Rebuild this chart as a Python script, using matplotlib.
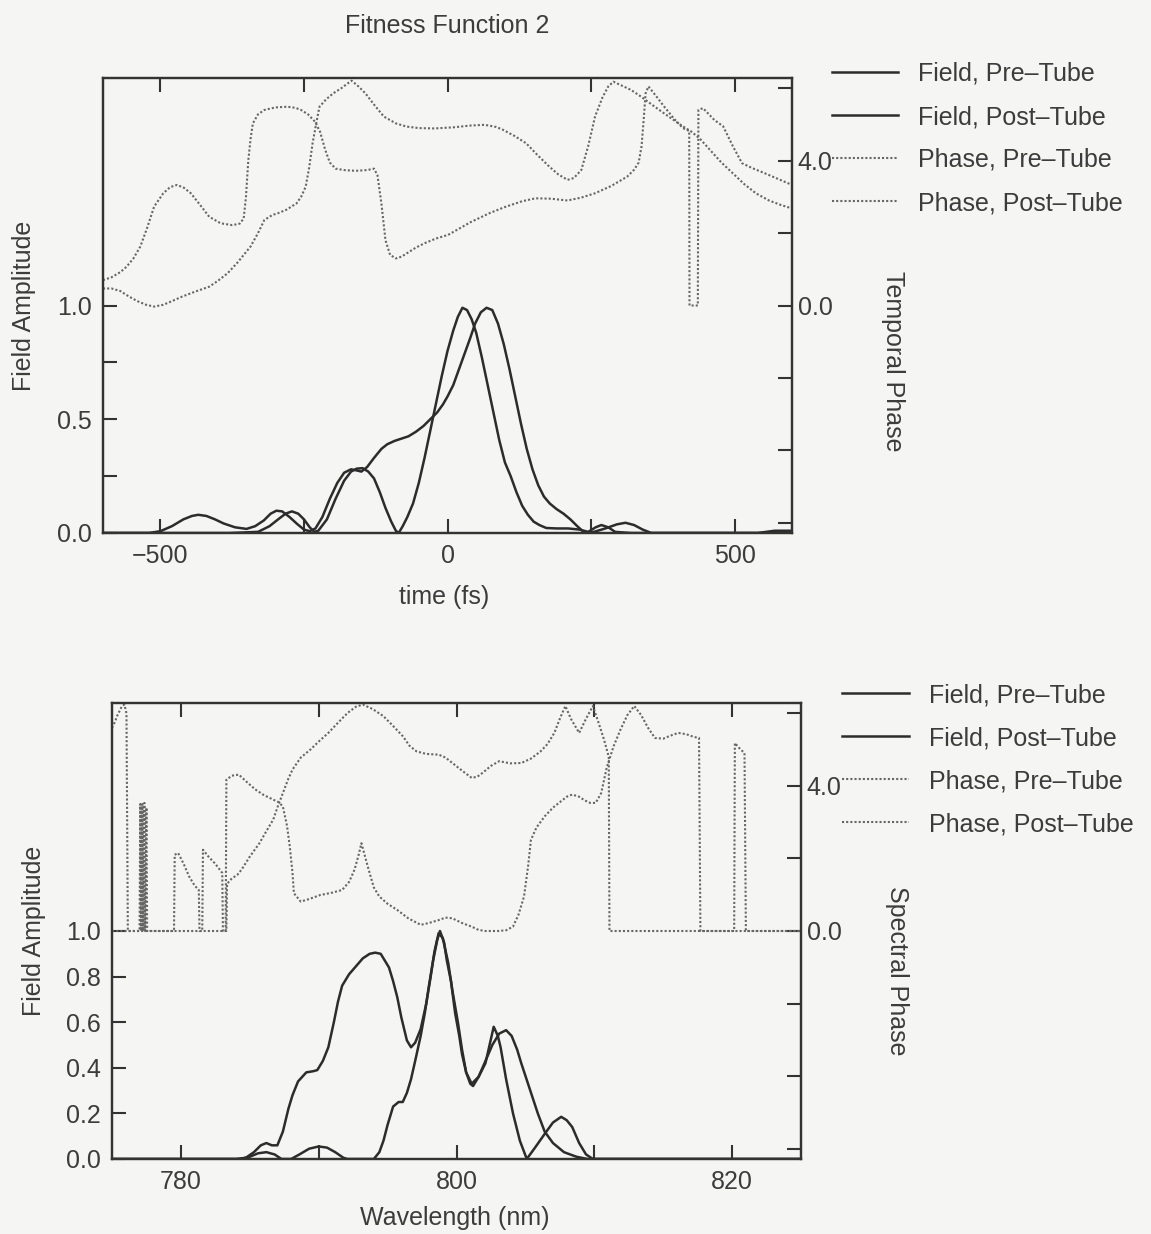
import matplotlib
matplotlib.use('Agg')
import matplotlib.pyplot as plt
from matplotlib.ticker import MultipleLocator, FixedLocator, FixedFormatter, FormatStrFormatter
import numpy as np

# ---------------- data: top panel (time domain) ----------------
t_field_pre = [-600, -450, -380, -330, -310, -295, -282, -271, -260, -250, -240, -232, -225, -210, -195,
               -180, -168, -158, -148, -138, -128, -118, -108, -98, -90, -85, -78, -70, -60, -50, -40,
               -30, -20, -10, 0, 10, 18, 26, 34, 42, 50, 60, 70, 80, 90, 100, 110, 120, 130, 140, 150,
               160, 172, 190, 210, 230, 245, 258, 268, 280, 292, 320, 540, 570, 600]
f_field_pre = [0.0, 0.0, 0.0, 0.005, 0.03, 0.06, 0.085, 0.095, 0.085, 0.06, 0.025, 0.005, 0.01, 0.06, 0.15,
               0.23, 0.27, 0.283, 0.285, 0.27, 0.24, 0.18, 0.11, 0.05, 0.01, 0.0, 0.03, 0.07, 0.13, 0.22, 0.33,
               0.45, 0.57, 0.69, 0.80, 0.89, 0.95, 0.99, 0.98, 0.94, 0.88, 0.77, 0.65, 0.53, 0.41, 0.31, 0.25,
               0.18, 0.12, 0.08, 0.05, 0.035, 0.022, 0.02, 0.02, 0.015, 0.005, 0.025, 0.035, 0.025, 0.005, 0.0,
               0.0, 0.01, 0.01]

t_field_post = [-600, -520, -500, -480, -460, -445, -434, -420, -405, -390, -370, -350, -335, -320, -308,
                -298, -288, -275, -262, -250, -240, -230, -218, -205, -192, -180, -168, -158, -150, -140,
                -128, -115, -105, -92, -80, -68, -55, -42, -30, -18, -8, 0, 10, 20, 30, 40, 48, 58, 68, 78,
                88, 98, 108, 118, 128, 138, 148, 158, 168, 178, 190, 202, 214, 226, 239, 255, 275, 295, 310,
                325, 340, 355, 600]
f_field_post = [0.0, 0.0, 0.008, 0.03, 0.06, 0.075, 0.08, 0.075, 0.06, 0.042, 0.025, 0.018, 0.03, 0.055, 0.085,
                0.098, 0.095, 0.07, 0.04, 0.015, 0.008, 0.02, 0.07, 0.15, 0.22, 0.265, 0.28, 0.275, 0.27, 0.29,
                0.33, 0.37, 0.39, 0.405, 0.415, 0.425, 0.445, 0.47, 0.50, 0.53, 0.565, 0.60, 0.65, 0.72, 0.79,
                0.86, 0.92, 0.97, 0.99, 0.98, 0.92, 0.83, 0.72, 0.60, 0.48, 0.37, 0.28, 0.21, 0.16, 0.13, 0.105,
                0.085, 0.06, 0.03, 0.0, 0.005, 0.02, 0.038, 0.045, 0.035, 0.015, 0.0, 0.0]

t_phase_pre = [-600, -585, -570, -559, -547, -535, -523, -511, -495, -483, -471, -459, -447, -431, -415, -395,
               -375, -362, -355, -351, -347, -343, -339, -330, -319, -300, -279, -265, -255, -243, -231, -222,
               -213, -205, -195, -180, -160, -140, -128, -122, -115, -108, -100, -90, -80, -70, -55, -40, -20,
               1, 20, 40, 73, 100, 130, 153, 180, 209, 233, 257, 285, 313, 325, 333, 338, 342, 345, 350, 355,
               365, 377, 395, 410, 421, 421.5, 436, 437, 445, 465, 480, 497, 513, 530, 553, 575, 600]
p_phase_pre = [0.70, 0.78, 0.92, 1.07, 1.30, 1.63, 2.15, 2.73, 3.10, 3.27, 3.33, 3.25, 3.10, 2.78, 2.45, 2.27,
               2.22, 2.26, 2.40, 3.0, 4.0, 4.6, 5.03, 5.28, 5.40, 5.47, 5.49, 5.46, 5.40, 5.28, 5.08, 4.8,
               4.3, 3.95, 3.78, 3.74, 3.72, 3.74, 3.78, 3.6, 2.8, 1.8, 1.40, 1.30, 1.35, 1.45, 1.60, 1.72, 1.85,
               1.95, 2.12, 2.30, 2.55, 2.72, 2.88, 2.96, 2.95, 2.90, 2.98, 3.10, 3.30, 3.56, 3.75, 3.95, 4.4,
               5.2, 5.86, 6.05, 5.95, 5.75, 5.50, 5.15, 4.9, 4.82, 0.0, 0.0, 5.4, 5.45, 5.12, 4.95, 4.4, 3.93,
               3.8, 3.65, 3.5, 3.33]

t_phase_post = [-600, -585, -570, -555, -540, -525, -511, -495, -480, -463, -440, -415, -400, -383, -365, -343,
                -330, -319, -305, -295, -280, -263, -255, -247, -241, -235, -229, -223, -211, -199, -185, -175,
                -167, -155, -143, -128, -111, -90, -71, -50, -23, 10, 40, 65, 85, 97, 117, 137, 157, 177, 193,
                209, 220, 233, 245, 257, 270, 280, 289, 300, 320, 337, 360, 385, 405, 425, 440, 457, 477, 497,
                517, 537, 560, 580, 600]
p_phase_post = [0.47, 0.47, 0.40, 0.25, 0.12, 0.02, -0.03, 0.02, 0.12, 0.24, 0.38, 0.52, 0.68, 0.89, 1.20, 1.63,
                2.0, 2.36, 2.50, 2.55, 2.65, 2.82, 3.0, 3.28, 3.8, 4.48, 5.0, 5.49, 5.70, 5.86, 6.0, 6.12,
                6.21, 6.05, 5.86, 5.55, 5.22, 5.03, 4.94, 4.90, 4.89, 4.92, 4.97, 4.99, 4.93, 4.85, 4.68, 4.48,
                4.15, 3.84, 3.62, 3.47, 3.52, 3.74, 4.4, 5.22, 5.75, 6.05, 6.18, 6.1, 5.95, 5.77, 5.5, 5.22,
                5.0, 4.8, 4.6, 4.3, 3.95, 3.65, 3.35, 3.10, 2.9, 2.78, 2.68]

# ---------------- data: bottom panel (spectral domain) ----------------
wl_field_pre = [775, 784.0, 784.7, 785.3, 785.8, 786.2, 786.6, 787.0, 787.4, 787.8, 788.1, 788.5, 789.1, 789.6,
                789.9, 790.3, 790.7, 791.1, 791.4, 791.7, 792.2, 792.7, 793.2, 793.7, 794.1, 794.5, 795.1,
                795.4, 795.7, 796.0, 796.4, 796.7, 797.0, 797.4, 797.8, 798.1, 798.4, 798.7, 799.0, 799.4,
                799.7, 800.1, 800.4, 800.7, 801.0, 801.2, 801.6, 802.1, 802.4, 802.7, 803.0, 803.2, 803.6,
                804.1, 804.6, 805.1, 805.7, 806.4, 807.0, 807.6, 808.0, 808.4, 808.9, 809.4, 809.9, 825]
f_field_pre_wl = [0, 0, 0.005, 0.03, 0.06, 0.07, 0.06, 0.06, 0.12, 0.22, 0.28, 0.34, 0.38, 0.385,
                  0.39, 0.43, 0.49, 0.60, 0.69, 0.76, 0.81, 0.845, 0.88, 0.90, 0.905, 0.90, 0.84,
                  0.78, 0.71, 0.62, 0.52, 0.49, 0.51, 0.57, 0.68, 0.79, 0.91, 0.99, 0.97, 0.86,
                  0.74, 0.60, 0.48, 0.38, 0.33, 0.32, 0.36, 0.42, 0.50, 0.58, 0.54, 0.49, 0.35,
                  0.20, 0.08, 0.0, 0.05, 0.11, 0.16, 0.185, 0.17, 0.14, 0.07, 0.02, 0.0, 0.0]

wl_field_post = [775, 784.3, 785.0, 785.6, 786.2, 786.8, 787.3, 788.0, 788.6, 789.3, 790.0, 790.6, 791.2, 791.8,
                 792.1, 794.0, 794.4, 794.7, 795.0, 795.4, 795.8, 796.1, 796.4, 796.7, 797.0, 797.4, 797.7,
                 798.0, 798.3, 798.6, 798.8, 799.1, 799.3, 799.6, 799.9, 800.2, 800.4, 800.7, 801.1, 801.6,
                 802.1, 802.6, 803.1, 803.6, 804.0, 804.4, 804.7, 805.3, 805.9, 806.4, 807.0, 807.8, 808.7,
                 809.5, 825]
f_field_post_wl = [0, 0, 0.01, 0.025, 0.03, 0.02, 0.0, 0.0, 0.02, 0.045, 0.055, 0.05, 0.03, 0.005,
                   0.0, 0.0, 0.03, 0.08, 0.15, 0.23, 0.25, 0.25, 0.29, 0.35, 0.43, 0.54, 0.64,
                   0.76, 0.87, 0.96, 1.0, 0.95, 0.87, 0.78, 0.64, 0.54, 0.46, 0.38, 0.33, 0.36,
                   0.43, 0.50, 0.55, 0.565, 0.54, 0.48, 0.42, 0.31, 0.20, 0.12, 0.07, 0.03, 0.01,
                   0.0, 0.0]

wl_phase_pre = [775, 783.3, 783.35, 783.7, 784.1, 784.4, 785.0, 785.7, 786.2, 786.7, 787.0, 787.4, 787.8, 788.1,
                788.7, 789.4, 790.0, 790.7, 791.4, 792.1, 792.7, 793.2, 793.9, 794.7, 795.4, 796.1, 796.6,
                797.1, 797.8, 798.7, 799.2, 799.7, 800.4, 801.1, 801.5, 801.9, 802.5, 803.1, 803.9, 804.7,
                805.4, 806.1, 806.6, 807.1, 807.5, 807.9, 808.3, 808.9, 809.4, 809.9, 810.3, 810.7, 811.05,
                811.1, 825]
p_phase_pre_wl = [0, 0, 1.3, 1.45, 1.55, 1.69, 2.05, 2.42, 2.75, 3.07, 3.40, 3.80, 4.20, 4.45,
                  4.78, 5.00, 5.22, 5.46, 5.74, 6.01, 6.18, 6.24, 6.12, 5.92, 5.65, 5.37, 5.10,
                  4.95, 4.88, 4.86, 4.78, 4.63, 4.42, 4.22, 4.25, 4.36, 4.55, 4.68, 4.62, 4.63,
                  4.75, 4.95, 5.15, 5.46, 5.85, 6.20, 5.85, 5.46, 5.85, 6.20, 5.75, 5.28, 4.8,
                  0, 0]

wl_phase_post = [775.0, 775.2, 775.4, 775.7, 775.9, 776.05, 776.15, 777.0, 777.05, 777.1, 777.2, 777.25, 777.35,
                 777.4, 777.5, 777.55, 779.5, 779.55, 779.8, 780.2, 780.6, 781.0, 781.3, 781.35, 781.55, 781.6,
                 782.0, 782.5, 783.0, 783.05, 783.25, 783.3, 783.7, 784.2, 784.8, 785.4, 786.0, 786.7, 787.1,
                 787.4, 787.7, 787.9, 788.1, 788.2, 788.7, 789.3, 790.1, 790.9, 791.7, 792.2, 792.6, 792.9,
                 793.1, 793.4, 793.7, 794.0, 794.4, 795.0, 795.7, 796.5, 797.4, 798.0, 798.7, 799.2, 799.7,
                 800.4, 801.1, 801.6, 802.1, 803.0, 803.6, 804.1, 804.5, 804.9, 805.2, 805.4, 805.8, 806.4,
                 807.0, 807.6, 808.0, 808.4, 808.9, 809.3, 809.7, 810.1, 810.5, 810.9, 811.4, 811.9, 812.4,
                 812.9, 813.4, 813.9, 814.4, 815.0, 815.5, 816.1, 816.7, 817.2, 817.6, 817.7, 820.15, 820.2,
                 820.5, 820.9, 821.0, 825]
p_phase_post_wl = [5.6, 5.75, 5.95, 6.18, 6.24, 6.0, 0, 0, 3.5, 0, 3.5, 0, 3.53,
                   0, 3.4, 0, 0, 2.1, 2.15, 1.85, 1.50, 1.25, 1.13, 0, 0, 2.24,
                   2.05, 1.85, 1.60, 0, 0, 4.17, 4.28, 4.31, 4.10, 3.90, 3.75, 3.62, 3.55,
                   3.43, 2.9, 2.33, 1.6, 1.04, 0.81, 0.88, 0.99, 1.05, 1.13, 1.35, 1.69, 2.1,
                   2.42, 2.0, 1.59, 1.20, 0.95, 0.75, 0.58, 0.35, 0.17, 0.22, 0.30, 0.37, 0.35,
                   0.22, 0.12, 0.03, 0.0, 0.0, 0.02, 0.12, 0.45, 0.95, 1.8, 2.51, 2.85, 3.16,
                   3.40, 3.58, 3.70, 3.76, 3.70, 3.60, 3.53, 3.53, 3.80, 4.5, 5.09, 5.55, 5.95,
                   6.20, 5.95, 5.6, 5.32, 5.30, 5.38, 5.46, 5.42, 5.35, 5.32, 0, 0, 5.18,
                   5.05, 4.9, 0, 0]

legend_labels = ['Field, Pre\u2013Tube', 'Field, Post\u2013Tube', 'Phase, Pre\u2013Tube', 'Phase, Post\u2013Tube']
left_ticks_top = [0.0, 0.5, 1.0]
left_minor_top = [0.25, 0.75]
left_ticks_bot = [0.0, 0.2, 0.4, 0.6, 0.8, 1.0]
phase_ticks = [-6, -4, -2, 0, 2, 4, 6]
phase_tick_labels = ['', '', '', '0.0', '', '4.0', '']

# ---------------- style ----------------
plt.rcParams['font.family'] = ['Liberation Sans', 'DejaVu Sans']
plt.rcParams['font.size'] = 18
TXT = '#3c3c3c'
FIELD_C = '#2c2c2c'
PHASE_C = '#666666'
BG = '#f5f5f3'
plt.rcParams['text.color'] = TXT
plt.rcParams['axes.labelcolor'] = TXT
plt.rcParams['xtick.color'] = '#333333'
plt.rcParams['ytick.color'] = '#333333'
plt.rcParams['xtick.labelcolor'] = TXT
plt.rcParams['ytick.labelcolor'] = TXT

W, H = 1151, 1234
fig = plt.figure(figsize=(W / 100, H / 100), dpi=100)
fig.patch.set_facecolor(BG)

field_kw = dict(color=FIELD_C, lw=1.8, solid_joinstyle='round')
phase_kw = dict(color=PHASE_C, lw=1.5, linestyle=(0, (1, 1.0)))


def style_axes(ax, axr, xmajor, xminor, lticks, lminor):
    ax.set_facecolor('none')
    for sp in list(ax.spines.values()) + list(axr.spines.values()):
        sp.set_linewidth(1.6)
        sp.set_color('#333333')
    ax.xaxis.set_major_locator(MultipleLocator(xmajor))
    ax.xaxis.set_minor_locator(MultipleLocator(xminor))
    ax.yaxis.set_major_locator(FixedLocator(lticks))
    ax.yaxis.set_minor_locator(FixedLocator(lminor))
    ax.yaxis.set_major_formatter(FormatStrFormatter('%.1f'))
    ax.tick_params(axis='both', which='both', direction='in', length=10, width=1.5,
                   top=True, right=False, labelsize=18)
    ax.tick_params(axis='x', which='both', pad=8)
    ax.tick_params(axis='y', which='both', pad=8)
    axr.set_ylim(-2 * np.pi, 2 * np.pi)
    axr.yaxis.set_major_locator(FixedLocator(phase_ticks))
    axr.yaxis.set_major_formatter(FixedFormatter(phase_tick_labels))
    axr.tick_params(axis='y', which='both', direction='in', length=10, width=1.5, pad=4, labelsize=18)


# ---------------- top panel ----------------
ax1 = fig.add_axes([103 / W, 1 - 533 / H, 689 / W, 455 / H])
ax1r = ax1.twinx()
ax1.set_xlim(-600, 600)
ax1.set_ylim(0, 2.0)
l1, = ax1.plot(t_field_pre, f_field_pre, **field_kw)
l2, = ax1.plot(t_field_post, f_field_post, **field_kw)
l3, = ax1r.plot(t_phase_pre, p_phase_pre, **phase_kw)
l4, = ax1r.plot(t_phase_post, p_phase_post, **phase_kw)
style_axes(ax1, ax1r, 500, 250, left_ticks_top, left_minor_top)
ax1.set_xlabel('time (fs)', va='center')
ax1.xaxis.set_label_coords(0.495, -0.141)
ax1.set_ylabel('Field Amplitude', va='center')
ax1.yaxis.set_label_coords(-0.1147, 0.5)
ax1r.set_ylabel('Temporal Phase', rotation=-90, va='center')
ax1r.yaxis.set_label_coords(1.147, 0.378)
ax1.set_title('Fitness Function 2', x=0.499, y=1.114, va='center', pad=0, fontsize=18, color=TXT)
ax1r.legend([l1, l2, l3, l4], legend_labels, loc='upper left',
            bbox_to_anchor=(832 / W, 1 - 62 / H), bbox_transform=fig.transFigure,
            frameon=False, fontsize=18, handlelength=2.65, handletextpad=0.8,
            labelspacing=0.76, borderpad=0, borderaxespad=0)

# ---------------- bottom panel ----------------
ax2 = fig.add_axes([112 / W, 1 - 1159 / H, 689 / W, 456 / H])
ax2r = ax2.twinx()
ax2.set_xlim(775, 825)
ax2.set_ylim(0, 2.0)
m1, = ax2.plot(wl_field_pre, f_field_pre_wl, **field_kw)
m2, = ax2.plot(wl_field_post, f_field_post_wl, **field_kw)
m3, = ax2r.plot(wl_phase_pre, p_phase_pre_wl, **phase_kw)
m4, = ax2r.plot(wl_phase_post, p_phase_post_wl, **phase_kw)
style_axes(ax2, ax2r, 20, 10, left_ticks_bot, [])
ax2.set_xlabel('Wavelength (nm)', va='center')
ax2.xaxis.set_label_coords(0.498, -0.129)
ax2.set_ylabel('Field Amplitude', va='center')
ax2.yaxis.set_label_coords(-0.1132, 0.5)
ax2r.set_ylabel('Spectral Phase', rotation=-90, va='center')
ax2r.yaxis.set_label_coords(1.139, 0.412)
ax2r.legend([m1, m2, m3, m4], legend_labels, loc='upper left',
            bbox_to_anchor=(842 / W, 1 - 683 / H), bbox_transform=fig.transFigure,
            frameon=False, fontsize=18, handlelength=2.7, handletextpad=0.8,
            labelspacing=0.76, borderpad=0, borderaxespad=0)

fig.savefig('out.png', dpi=100, facecolor=fig.get_facecolor())
